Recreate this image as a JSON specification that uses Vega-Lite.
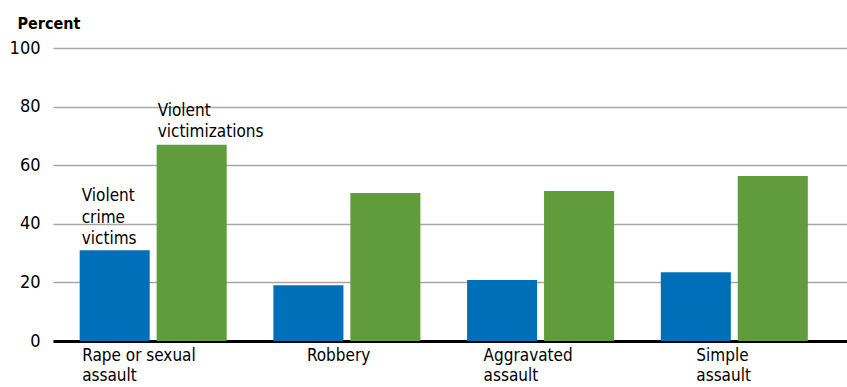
{
  "$schema": "https://vega.github.io/schema/vega-lite/v6.json",
  "width": 794,
  "height": 293,
  "autosize": {"type": "none"},
  "padding": {"left": 53, "top": 48, "right": 0, "bottom": 46},
  "background": "white",
  "config": {
    "view": {"stroke": null},
    "font": "DejaVu Sans Condensed, sans-serif"
  },
  "data": {
    "values": [
      {"crime": "Rape or sexual assault", "series": "Violent crime victims", "percent": 31, "label": ["Violent", "crime", "victims"]},
      {"crime": "Rape or sexual assault", "series": "Violent victimizations", "percent": 67, "label": ["Violent", "victimizations"]},
      {"crime": "Robbery", "series": "Violent crime victims", "percent": 19, "label": null},
      {"crime": "Robbery", "series": "Violent victimizations", "percent": 50.5, "label": null},
      {"crime": "Aggravated assault", "series": "Violent crime victims", "percent": 20.8, "label": null},
      {"crime": "Aggravated assault", "series": "Violent victimizations", "percent": 51.2, "label": null},
      {"crime": "Simple assault", "series": "Violent crime victims", "percent": 23.5, "label": null},
      {"crime": "Simple assault", "series": "Violent victimizations", "percent": 56.3, "label": null}
    ]
  },
  "encoding": {
    "x": {
      "field": "crime",
      "type": "nominal",
      "sort": ["Rape or sexual assault", "Robbery", "Aggravated assault", "Simple assault"],
      "scale": {"paddingInner": 0.241, "paddingOuter": 0.17, "align": 0.405},
      "axis": {
        "title": null,
        "domain": true,
        "domainColor": "#000000",
        "domainWidth": 3,
        "ticks": false,
        "labelAlign": "left",
        "labelAngle": 0,
        "labelFontSize": 17,
        "labelColor": "#000000",
        "labelPadding": 6,
        "labelLineHeight": 20,
        "labelOffset": {
          "condition": [
            {"test": "datum.value == 'Robbery'", "value": -40},
            {"test": "datum.value == 'Aggravated assault'", "value": -57},
            {"test": "datum.value == 'Simple assault'", "value": -38}
          ],
          "value": -71
        },
        "labelExpr": "indexof(datum.label, ' assault') > 0 ? [replace(datum.label, ' assault', ''), 'assault'] : datum.label"
      }
    },
    "xOffset": {
      "field": "series",
      "type": "nominal",
      "sort": ["Violent crime victims", "Violent victimizations"],
      "scale": {"paddingInner": 0.09, "paddingOuter": 0}
    },
    "y": {
      "field": "percent",
      "type": "quantitative",
      "scale": {"domain": [0, 100], "nice": false},
      "axis": {
        "values": [0, 20, 40, 60, 80, 100],
        "domain": false,
        "ticks": false,
        "grid": true,
        "gridColor": "#a6a6a6",
        "gridWidth": 1.5,
        "labelFontSize": 18,
        "labelColor": "#000000",
        "labelPadding": 13,
        "title": "Percent",
        "titleAngle": 0,
        "titleAlign": "left",
        "titleBaseline": "alphabetic",
        "titleX": -36,
        "titleY": -20,
        "titleFontSize": 16,
        "titleFontWeight": "bold",
        "titleColor": "#000000"
      }
    }
  },
  "layer": [
    {
      "mark": {"type": "bar"},
      "encoding": {
        "color": {
          "field": "series",
          "type": "nominal",
          "scale": {"domain": ["Violent crime victims", "Violent victimizations"], "range": ["#006fba", "#619c3c"]},
          "legend": null
        }
      }
    },
    {
      "transform": [{"filter": "datum.series == 'Violent crime victims' && datum.label != null"}],
      "mark": {"type": "text", "align": "left", "baseline": "alphabetic", "dx": -33, "dy": -49, "lineHeight": 21.5, "fontSize": 17, "color": "#000000"},
      "encoding": {
        "text": {"field": "label"}
      }
    },
    {
      "transform": [{"filter": "datum.series == 'Violent victimizations' && datum.label != null"}],
      "mark": {"type": "text", "align": "left", "baseline": "alphabetic", "dx": -34, "dy": -29, "lineHeight": 21.5, "fontSize": 17, "color": "#000000"},
      "encoding": {
        "text": {"field": "label"}
      }
    }
  ]
}
